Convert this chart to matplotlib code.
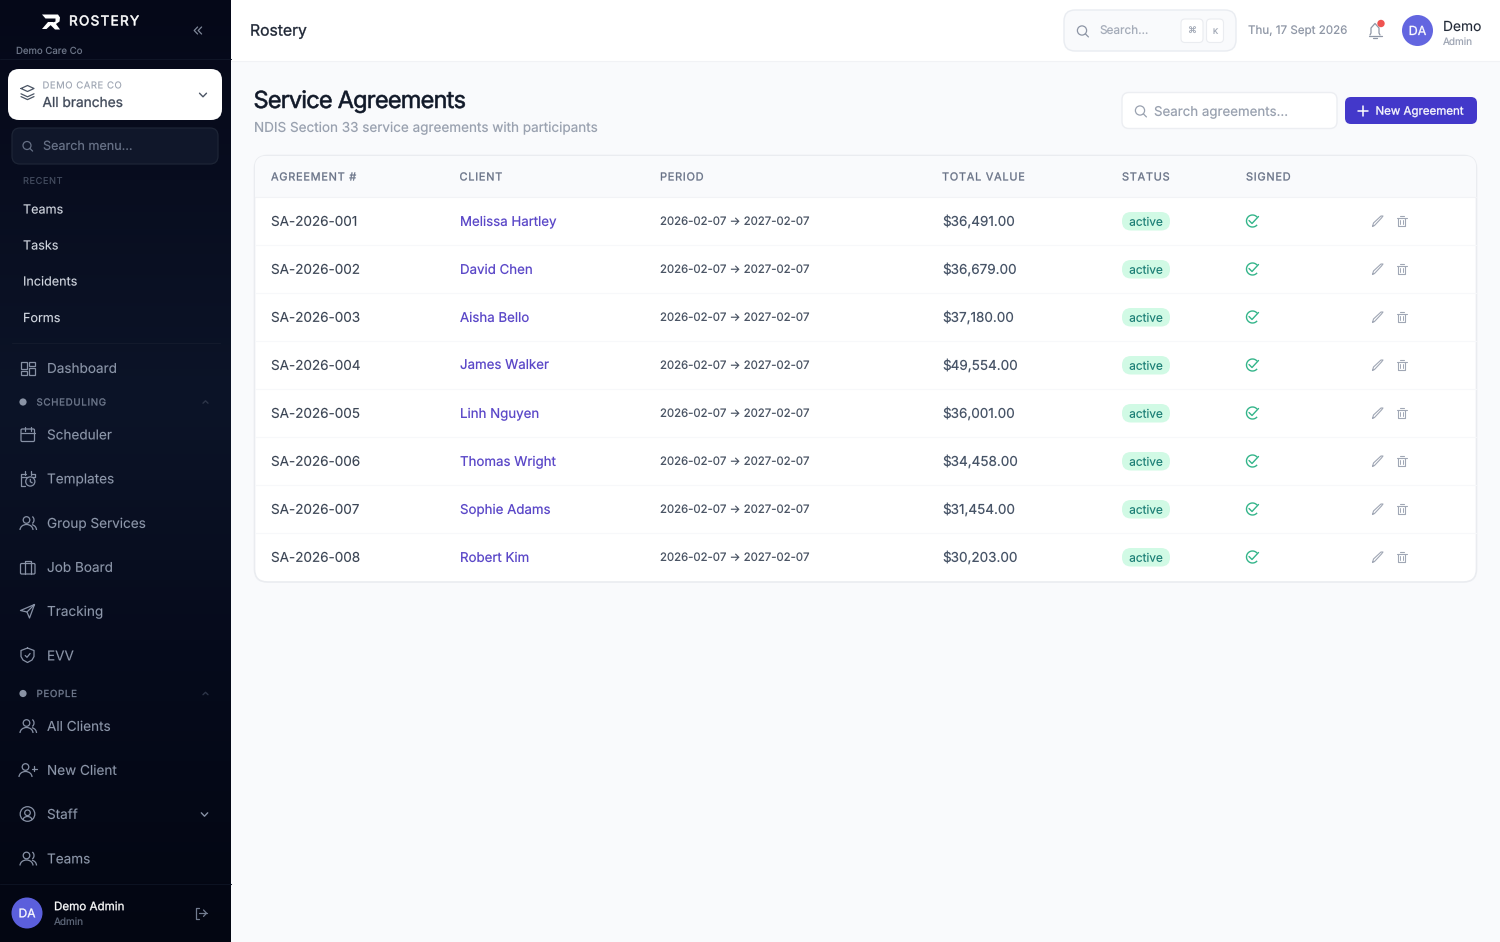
import numpy as np
import matplotlib
matplotlib.use('Agg')
import matplotlib.pyplot as plt
import matplotlib.patheffects as pe
from matplotlib.patches import FancyBboxPatch, Circle, Rectangle, Polygon, Arc

plt.rcParams['font.family'] = ['Inter', 'DejaVu Sans']
plt.rcParams['text.hinting'] = 'none'
plt.rcParams['text.hinting_factor'] = 1

# Table content
agreement_ids = ['SA-2026-001', 'SA-2026-002', 'SA-2026-003', 'SA-2026-004',
                 'SA-2026-005', 'SA-2026-006', 'SA-2026-007', 'SA-2026-008']
clients = ['Melissa Hartley', 'David Chen', 'Aisha Bello', 'James Walker',
           'Linh Nguyen', 'Thomas Wright', 'Sophie Adams', 'Robert Kim']
total_values = [36491, 36679, 37180, 49554, 36001, 34458, 31454, 30203]
period = '2026-02-07 → 2027-02-07'
status = 'active'
columns = ['AGREEMENT #', 'CLIENT', 'PERIOD', 'TOTAL VALUE', 'STATUS', 'SIGNED']
column_x = [271, 459.5, 660, 942, 1122, 1246]

# Sidebar content
recent_items = ['Teams', 'Tasks', 'Incidents', 'Forms']
recent_y = [209, 245, 281, 317.5]
menu_items = ['Dashboard', 'Scheduler', 'Templates', 'Group Services', 'Job Board',
              'Tracking', 'EVV', 'All Clients', 'New Client', 'Staff', 'Teams']
menu_y = [368, 434.5, 478.5, 523, 567, 611, 655.5, 726, 770, 814, 858.5]
menu_icons = ['grid', 'cal', 'calclock', 'users', 'case', 'send', 'shield',
              'users', 'useradd', 'usercircle', 'users']
section_names = ['SCHEDULING', 'PEOPLE']
section_y = [402, 693.5]

DPI = 100
fig = plt.figure(figsize=(15, 9.42), dpi=DPI)
ax = fig.add_axes([0, 0, 1, 1])
ax.set_xlim(0, 1500)
ax.set_ylim(942, 0)
ax.axis('off')

# fake weights with a thin outline, the Inter here only renders one weight
WEIGHTS = {'normal': 0, 'medium': 0.08, 'semibold': 0.22, 'bold': 0.42}


class Outline(pe.AbstractPathEffect):
    # no snapping here, agg eats the arms of E and L otherwise
    def __init__(self, lw, color):
        super().__init__()
        self.lw = lw
        self.color = color

    def draw_path(self, renderer, gc, tpath, affine, rgbFace):
        gc0 = renderer.new_gc()
        gc0.copy_properties(gc)
        gc0.set_snap(False)
        gc0.set_linewidth(self.lw)
        gc0.set_foreground(self.color)
        renderer.draw_path(gc0, tpath, affine, rgbFace)
        gc0.restore()


def px(size):
    return size * 72 / DPI


def label(x, y, s, size, color, weight='normal', ha='left', spacing=0, zorder=8):
    base = y + 0.36 * size
    lw = WEIGHTS[weight]
    effects = [Outline(lw, color)] if lw else None
    if spacing:
        # crude letter spacing: place one character at a time
        r = fig.canvas.get_renderer()
        cur = x
        for ch in s:
            ax.text(cur, base, ch, fontsize=px(size), color=color, ha='left', va='baseline',
                    zorder=zorder, path_effects=effects)
            adv = ax.text(0, 0, ch + '|', fontsize=px(size))
            bar = ax.text(0, 0, '|', fontsize=px(size))
            w = adv.get_window_extent(r).width - bar.get_window_extent(r).width
            adv.remove()
            bar.remove()
            cur += w + spacing
        return
    ax.text(x, base, s, fontsize=px(size), color=color, ha=ha, va='baseline',
            zorder=zorder, path_effects=effects)


def rbox(x0, y0, x1, y1, r, fc, ec='none', lw=0, zorder=3):
    p = FancyBboxPatch((x0 + r, y0 + r), x1 - x0 - 2 * r, y1 - y0 - 2 * r,
                       boxstyle=f'round,pad={r},rounding_size={r}', fc=fc, ec=ec, lw=lw, zorder=zorder)
    ax.add_patch(p)


def stroke(xs, ys, color, lw=1.1, zorder=6):
    ax.plot(xs, ys, color=color, lw=lw, solid_capstyle='round', solid_joinstyle='round', zorder=zorder)


def circle(x, y, r, color, lw=1.1, fc='none', zorder=6):
    ax.add_patch(Circle((x, y), r, fc=fc, ec=color, lw=lw, zorder=zorder))


def arc(x, y, w, h, a0, a1, color, lw=1.1):
    ax.add_patch(Arc((x, y), w, h, theta1=a0, theta2=a1, color=color, lw=lw, zorder=6))


def search_icon(x, y, color, r=4.6):
    circle(x, y, r, color, lw=0.9)
    stroke([x + r * 0.72, x + r * 1.4], [y + r * 0.72, y + r * 1.4], color, lw=0.9)


def chevron(x, y, color, w=3.5, h=2, up=False, lw=1.0):
    s = -1 if up else 1
    stroke([x - w, x, x + w], [y - s * h, y + s * h, y - s * h], color, lw=lw)


def user_icon(x, y, color, second=True):
    circle(x - 1, y - 3, 3.3, color, lw=0.9)
    arc(x - 1, y + 7, 13, 11, 180, 360, color, lw=0.9)
    if second:
        arc(x + 3.5, y - 3, 6, 7.5, -70, 70, color, lw=0.9)
        arc(x + 3, y + 7, 12, 11, 285, 360, color, lw=0.9)


def draw_icon(kind, x, y, c):
    if kind == 'grid':
        for bx, by, bw, bh in [(-6.5, -6.5, 5.5, 7), (1.5, -6.5, 5.5, 4), (1.5, -0.5, 5.5, 7), (-6.5, 2.5, 5.5, 4)]:
            ax.add_patch(Rectangle((x + bx, y + by), bw, bh, fc='none', ec=c, lw=0.9, zorder=6))
    elif kind == 'cal':
        rbox(x - 6.5, y - 5.5, x + 7, y + 7, 1.2, 'none', c, 0.9, 6)
        stroke([x - 6.5, x + 7], [y - 1.5, y - 1.5], c, lw=0.9)
        stroke([x - 3, x - 3], [y - 7.5, y - 4], c, lw=0.9)
        stroke([x + 3.5, x + 3.5], [y - 7.5, y - 4], c, lw=0.9)
    elif kind == 'calclock':
        stroke([x - 2, x - 6.5, x - 6.5, x - 3], [y - 5, y - 5, y + 7, y + 7], c, lw=0.9)
        stroke([x - 6.5, x + 7], [y - 1.5, y - 1.5], c, lw=0.9)
        stroke([x - 3, x - 3], [y - 7.5, y - 3.5], c, lw=0.9)
        stroke([x + 3.5, x + 3.5], [y - 7.5, y - 3.5], c, lw=0.9)
        stroke([x + 3, x + 7, x + 7], [y - 5, y - 5, y - 2], c, lw=0.9)
        circle(x + 2.8, y + 3, 4.6, c, lw=0.9, fc='#0c1428', zorder=7)
        ax.plot([x + 2.8, x + 2.8, x + 4.5], [y + 1, y + 3.2, y + 4.2], color=c, lw=0.9, zorder=7.5)
    elif kind == 'users':
        user_icon(x, y, c)
    elif kind == 'case':
        rbox(x - 7, y - 3.5, x + 7.5, y + 7, 1.2, 'none', c, 0.9, 6)
        stroke([x - 3, x - 3, x + 3.5, x + 3.5], [y + 7, y - 6.5, y - 6.5, y + 7], c, lw=0.9)
    elif kind == 'send':
        stroke([x + 7, x - 7, x - 0.5, x + 2, x + 7], [y - 6.5, y - 0.5, y + 1, y + 7, y - 6.5], c, lw=0.9)
        stroke([x + 7, x - 0.5], [y - 6.5, y + 1], c, lw=0.9)
    elif kind == 'shield':
        stroke([x, x + 6.5, x + 6.5, x + 4.5, x, x - 4.5, x - 6.5, x - 6.5, x],
               [y - 7.5, y - 5, y + 1, y + 4.5, y + 7, y + 4.5, y + 1, y - 5, y - 7.5], c, lw=0.9)
        stroke([x - 2.3, x - 0.5, x + 2.6], [y, y + 1.8, y - 2], c, lw=0.9)
    elif kind == 'useradd':
        user_icon(x - 1, y, c, second=False)
        stroke([x + 4.5, x + 9], [y - 1.5, y - 1.5], c, lw=0.9)
        stroke([x + 6.7, x + 6.7], [y - 3.7, y + 0.7], c, lw=0.9)
    elif kind == 'usercircle':
        circle(x, y, 7.3, c, lw=0.9)
        circle(x, y - 1.2, 2.8, c, lw=0.9)
        arc(x, y + 6, 9, 7, 180, 360, c, lw=0.9)


# main background
ax.add_patch(Rectangle((0, 0), 1500, 942, fc='#f9fafc', ec='none', zorder=0))

# sidebar gradient
stops_y = [0, 180, 400, 640, 942]
stops_c = [(5, 8, 24), (8, 13, 31), (12, 20, 40), (6, 11, 28), (3, 6, 18)]
grad = np.zeros((942, 1, 3))
for k in range(3):
    grad[:, 0, k] = np.interp(np.arange(942), stops_y, [c[k] for c in stops_c]) / 255
ax.imshow(grad, extent=(0, 231, 942, 0), aspect='auto', zorder=1, interpolation='bilinear')
ax.set_xlim(0, 1500)
ax.set_ylim(942, 0)

# top bar
ax.add_patch(Rectangle((231, 0), 1269, 60.5, fc='white', ec='none', zorder=1))
stroke([231, 1500], [60.5, 60.5], '#f1f2f5', lw=0.8, zorder=2)
label(250, 30, 'Rostery', 15.7, '#1c2433', 'semibold')

# logo
ax.add_patch(Polygon([(42, 14.5), (58, 14.5), (60, 17.5), (59.5, 21.5), (56, 24), (60, 29.5), (55, 29.5), (49.5, 24),
                      (55.5, 21.5), (55.5, 18.5), (45.5, 18.5)], fc='white', ec='none', zorder=6))
ax.add_patch(Polygon([(42, 29), (48, 22), (54, 22), (46.5, 29)], fc='white', ec='none', zorder=6))
label(69, 20.5, 'ROSTERY', 13.5, 'white', 'bold', spacing=1.3)
for dx in (195.2, 199.2):
    stroke([dx + 2.4, dx - 1, dx + 2.4], [27, 30.5, 34], '#7f8899', lw=0.9)
label(15.5, 50.5, 'Demo Care Co', 9.6, '#6b7486')
stroke([0, 231], [58.5, 58.5], '#0f1526', lw=0.8, zorder=2)

# branch selector
rbox(8, 69, 222, 120, 11, 'white')
label(42.5, 85, 'DEMO CARE CO', 9.5, '#98a0ae', 'medium', spacing=0.55)
label(42.5, 102, 'All branches', 13.7, '#3f4858', 'semibold')
for dy, fill in ((-3, True), (0.8, False), (3.6, False)):
    stroke([21, 27.5, 34, 27.5, 21] if fill else [21, 27.5, 34],
           [91.5 + dy, 88.5 + dy, 91.5 + dy, 94.5 + dy, 91.5 + dy] if fill else [91.5 + dy + 1.5, 94.5 + dy + 1.5, 91.5 + dy + 1.5],
           '#4b5565', lw=0.9)
chevron(203, 95, '#4b5565', 3.5, 1.8)

# menu search
rbox(12, 128, 218, 164, 8, '#10172a', '#1d2536', 0.9)
search_icon(27, 145.5, '#667085', 4)
label(43, 145.5, 'Search menu...', 12.6, '#667085')
label(23, 180.5, 'RECENT', 9.2, '#4a5366', 'medium', spacing=0.6)

for name, y in zip(recent_items, recent_y):
    label(23, y, name, 12.6, '#d8dde6', 'medium')
stroke([12, 220], [343, 343], '#131a2c', lw=0.8, zorder=2)

for name, y, icon in zip(menu_items, menu_y, menu_icons):
    draw_icon(icon, 27.5, y, '#8791a5')
    label(47, y, name, 13.55, '#8f99ac', 'medium')

for name, y in zip(section_names, section_y):
    ax.add_patch(Circle((23, y), 3.6, fc='#8a93a5', ec='none', zorder=6))
    label(36.5, y, name, 9.7, '#727c90', 'semibold', spacing=0.72)
    chevron(205.5, y, '#2d3548', 2.5, 1.2, up=True)
chevron(204.5, 814.5, '#8791a5', 3.2, 1.7)

# sidebar footer
stroke([0, 231], [883.5, 883.5], '#0c1222', lw=0.8, zorder=2)
ax.add_patch(Circle((27, 913), 15.5, fc='#5b5fdc', ec='none', zorder=6))
label(27, 913, 'DA', 12, 'white', 'semibold', ha='center')
label(54, 906, 'Demo Admin', 11.6, 'white', 'semibold')
label(54, 921.5, 'Admin', 10, '#5a6375')
stroke([199, 195.5, 195.5, 199], [908, 908, 918.5, 918.5], '#727c90', lw=0.9)
stroke([198.5, 206.5], [913.2, 913.2], '#727c90', lw=0.9)
stroke([203.5, 206.5, 203.5], [910, 913.2, 916.4], '#727c90', lw=0.9)

# top bar right side
rbox(1064, 10, 1236, 51, 11, '#f9fafc', '#e9ecf1', 1)
search_icon(1082, 30.5, '#8d95a5', 4.6)
label(1099, 30.5, 'Search...', 11.8, '#a5acb9')
rbox(1181, 19, 1203, 42.5, 4, 'white', '#eaecf0', 0.8, zorder=4)
rbox(1206.5, 19, 1223.5, 42.5, 4, 'white', '#eaecf0', 0.8, zorder=4)
label(1192, 31, '⌘', 9, '#a5acb9', ha='center')
label(1215, 31, 'K', 7.5, '#a5acb9', ha='center')
label(1248, 30.5, 'Thu, 17 Sept 2026', 11.6, '#8f97a6')
stroke([1370, 1371, 1371, 1375, 1379, 1379, 1380], [35, 33, 28, 23.5, 28, 33, 35], '#8f97a6', lw=0.9)
stroke([1368.5, 1381.5], [35.5, 35.5], '#8f97a6', lw=0.9)
stroke([1373, 1377], [38, 38], '#8f97a6', lw=0.9)
ax.add_patch(Circle((1381, 23.5), 3.7, fc='#ef5350', ec='none', zorder=7))
ax.add_patch(Circle((1417.5, 30.5), 15.5, fc='#6366e0', ec='none', zorder=6))
label(1417.5, 30.5, 'DA', 12.5, 'white', 'semibold', ha='center')
label(1443, 26, 'Demo', 13.8, '#1f2735', 'medium')
label(1443, 41, 'Admin', 10, '#a0a7b5')

# page heading
label(253.5, 99.5, 'Service Agreements', 23.5, '#101828', 'bold', spacing=-0.75)
label(253.5, 127, 'NDIS Section 33 service agreements with participants', 13.5, '#9aa2b0')

rbox(1122, 92.5, 1337, 128.5, 7, 'white', '#eceef2', 1)
search_icon(1140, 110.5, '#9aa2b0', 4.6)
label(1153.5, 110.5, 'Search agreements...', 13.3, '#9aa2b0')
rbox(1345, 97, 1477, 124, 6, '#4338ca')
stroke([1363, 1363], [106, 116], 'white', lw=1.1, zorder=7)
stroke([1358, 1368], [111, 111], 'white', lw=1.1, zorder=7)
label(1375.5, 110.5, 'New Agreement', 11.5, 'white', 'semibold')

# table card, header part in its own patch clipped to the top of the card
rbox(254.5, 155.5, 1476.5, 582, 13, 'white', '#eaecf0', 1.2, zorder=2)
head = Rectangle((255, 156), 1221, 40.5, fc='#f9fafc', ec='none', zorder=2.1)
ax.add_patch(head)
head.set_clip_path(FancyBboxPatch((267.5, 168.5), 1196, 400, boxstyle='round,pad=13,rounding_size=13',
                                  transform=ax.transData))
stroke([255, 1476], [196.5, 196.5], '#f2f3f6', lw=0.8, zorder=3)

for name, x in zip(columns, column_x):
    label(x, 176.5, name, 11, '#667085', 'semibold', spacing=0.72)

for i, (ref, who, value) in enumerate(zip(agreement_ids, clients, total_values)):
    y = 221 + 48 * i
    if i:
        stroke([255, 1476], [y - 24, y - 24], '#f7f8fa', lw=0.8, zorder=3)
    label(271, y, ref, 13.5, '#374151', 'medium')
    label(459.5, y, who, 13.3, '#5b48c8')
    label(660, y, period, 11.4, '#4b5565')
    label(942, y, f'${value:,.2f}', 13.5, '#475467')
    # status pill
    rbox(1122, y - 9, 1170, y + 9.5, 9, '#d1fae5')
    label(1146, y + 0.5, status, 11.8, '#0f766e', 'medium', ha='center')
    # signed check
    arc(1252.5, y, 12, 12, 40, 320, '#34b58a', lw=1.0)
    stroke([1249, 1252, 1258.5], [y - 0.5, y + 2.5, y - 4.5], '#34b58a', lw=1.0)
    # pencil
    stroke([1372.5, 1373.5, 1381, 1383, 1381.5, 1374.5, 1372.5], [y + 5.5, y + 2, y - 5, y - 5, y - 3, y + 4.5, y + 5.5], '#a0a7b5', lw=0.8)
    # trash
    stroke([1398, 1398, 1405, 1405], [y - 3.5, y + 5, y + 5, y - 3.5], '#a0a7b5', lw=0.8)
    stroke([1396.5, 1406.5], [y - 3.5, y - 3.5], '#a0a7b5', lw=0.8)
    stroke([1399.5, 1403.5], [y - 5.5, y - 5.5], '#a0a7b5', lw=0.8)
    stroke([1400.3, 1400.3], [y - 1, y + 2.5], '#a0a7b5', lw=0.7)
    stroke([1402.7, 1402.7], [y - 1, y + 2.5], '#a0a7b5', lw=0.7)

fig.savefig('out.png', dpi=DPI)
